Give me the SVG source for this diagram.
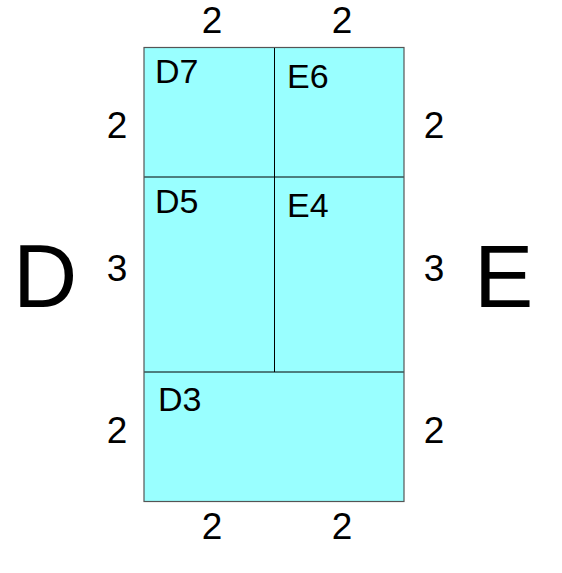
<svg xmlns="http://www.w3.org/2000/svg" width="562" height="573" viewBox="0 0 562 573">
<style>
text{font-family:"Liberation Sans",Arial,sans-serif;fill:#000}
.n{font-size:37px;text-anchor:middle}
.l{font-size:34px}
.big{font-size:89px}
.cell{fill:#99ffff;stroke:none}
.in{stroke:#000;stroke-width:1;fill:none}
</style>
<rect width="562" height="573" fill="#fff"/>
<g id="block">
<rect class="cell" x="144" y="47.5" width="260" height="454"/>
</g>
<g id="connectors">
<line class="in" x1="274.5" y1="47.5" x2="274.5" y2="372"/>
<line class="in" x1="144" y1="177" x2="404" y2="177"/>
<line class="in" x1="144" y1="372" x2="404" y2="372"/>
<rect x="144" y="47.5" width="260" height="454" fill="none" stroke="#555" stroke-width="1.2"/>
</g>
<g id="D7"><text class="l" x="155" y="83">D7</text></g>
<g id="E6"><text class="l" x="287" y="88">E6</text></g>
<g id="D5"><text class="l" x="155" y="213">D5</text></g>
<g id="E4"><text class="l" x="287" y="217">E4</text></g>
<g id="D3"><text class="l" x="158" y="411">D3</text></g>
<g id="D"><text class="big" x="13" y="307">D</text></g>
<g id="E"><text class="big" x="474" y="307">E</text></g>
<g id="dims">
<text class="n" x="212" y="33">2</text>
<text class="n" x="342" y="33">2</text>
<text class="n" x="212" y="539">2</text>
<text class="n" x="342" y="539">2</text>
<text class="n" x="117" y="138">2</text>
<text class="n" x="117" y="281">3</text>
<text class="n" x="117" y="443">2</text>
<text class="n" x="434" y="138">2</text>
<text class="n" x="434" y="281">3</text>
<text class="n" x="434" y="443">2</text>
</g>
</svg>
